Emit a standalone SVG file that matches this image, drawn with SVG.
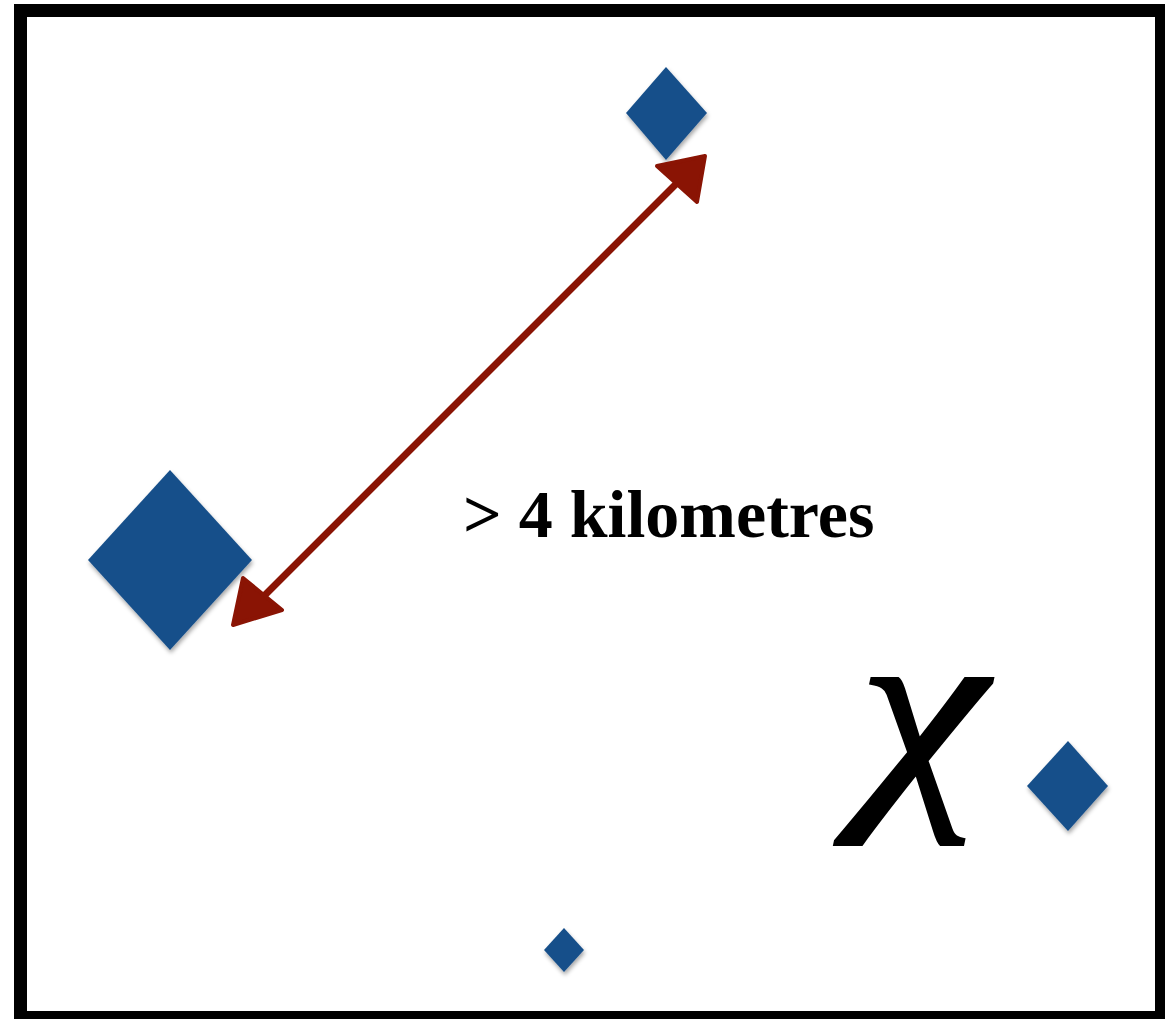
<svg xmlns="http://www.w3.org/2000/svg" width="1165" height="1019" viewBox="0 0 1165 1019">
<style>
.site{fill:#18508a;filter:url(#sh)}
.lbl{font-family:"Liberation Serif","Times New Roman",serif;fill:#000}
</style>
<defs>
<filter id="sh" x="-20%" y="-20%" width="140%" height="140%">
<feDropShadow dx="1" dy="3" stdDeviation="2" flood-color="#000" flood-opacity="0.35"/>
</filter>
</defs>
<rect x="0" y="0" width="1165" height="1019" fill="#fff"/>
<rect id="frame" x="20.5" y="10.5" width="1141" height="1007" fill="none" stroke="#000" stroke-width="13"/>
<g id="node-top"><polygon class="site" points="666,67 707,113 666,160 626,113"/></g>
<g id="node-big"><polygon class="site" points="170,470 252,560 170,650 88,560"/></g>
<g id="node-right"><polygon class="site" points="1068,741 1108,786 1068,831 1027,786"/></g>
<g id="node-small"><polygon class="site" points="564,928 584,950 564,972 544,950"/></g>
<g id="connectors">
<line x1="262" y1="598" x2="676" y2="184" stroke="#8a1404" stroke-width="7" stroke-linecap="round"/>
<polygon points="705,156 657,166 697,202" fill="#8a1404" stroke="#8a1404" stroke-width="4" stroke-linejoin="round"/>
<polygon points="233,625 243,578 282,610" fill="#8a1404" stroke="#8a1404" stroke-width="4" stroke-linejoin="round"/>
</g>
<text class="lbl" x="463" y="537" font-size="68" font-weight="bold">&gt; 4 kilometres</text>
<text class="lbl" font-size="248" font-style="italic" stroke="#000" stroke-width="2.5" transform="translate(858,792) scale(1.18,1)">χ</text>
</svg>
